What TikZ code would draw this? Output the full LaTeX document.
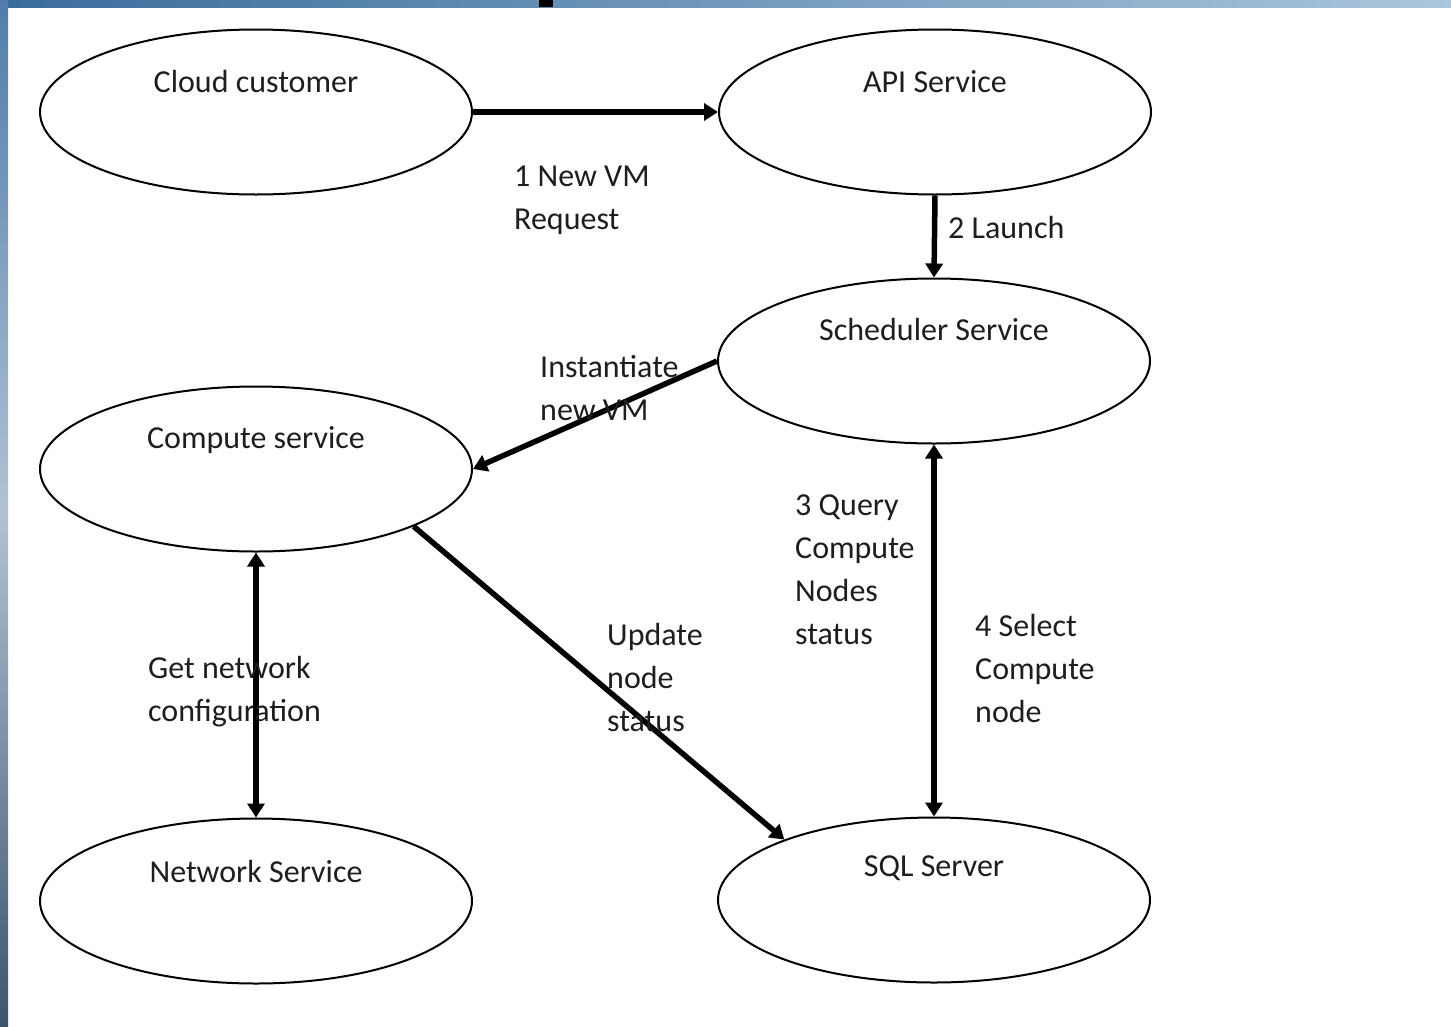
\documentclass[tikz,border=0pt]{standalone}
\usepackage{fontspec}
\setmainfont{Carlito}
\usetikzlibrary{shapes.geometric,arrows.meta}
\definecolor{txt}{HTML}{1E1E1E}
\tikzset{
  svc/.style={ellipse, draw=black, line width=2pt, minimum width=432pt, minimum height=165pt, inner sep=0pt},
  svctext/.style={anchor=north, inner sep=0pt, text=txt, font=\fontsize{32}{43}\selectfont},
  lbl/.style={anchor=north west, inner sep=0pt, align=left, text=txt, font=\fontsize{32}{43}\selectfont},
  conn/.style={line width=5.5pt, -{Triangle[length=14pt,width=17pt]}},
  dconn/.style={line width=5.5pt, {Triangle[length=14pt,width=17pt]}-{Triangle[length=14pt,width=17pt]}}
}
\begin{document}
\begin{tikzpicture}[x=1pt,y=-1pt]
\useasboundingbox (0,0) rectangle (1451,1026);
\fill[white] (0,0) rectangle (1451,1026);
% background strips
\shade[left color={rgb,255:red,58;green,108;blue,155}, right color={rgb,255:red,170;green,198;blue,220}] (0,0) rectangle (1451,7);
\fill[black] (539,0) rectangle (553,7);
\shade[top color={rgb,255:red,80;green,125;blue,170}, bottom color={rgb,255:red,60;green,85;blue,110}, middle color={rgb,255:red,175;green,195;blue,212}] (0,0) rectangle (8,1026);

% ellipses
\node[svc] (cc)   at (256,112) {};
\node[svc] (api)  at (935,112) {};
\node[svc] (sch)  at (934,361) {};
\node[svc] (comp) at (256,469) {};
\node[svc] (net)  at (256,901) {};
\node[svc] (sql)  at (934,900) {};

\node[svctext] (cct)   at (256,70)  {Cloud customer};
\node[svctext] (apit)  at (935,70)  {API Service};
\node[svctext] (scht)  at (934,318) {Scheduler Service};
\node[svctext] (compt) at (256,426) {Compute service};
\node[svctext] (nett)  at (256,860) {Network Service};
\node[svctext] (sqlt)  at (934,856) {SQL Server};

% connectors
\draw[conn] (cc.east) -- (api.west);
\draw[conn] (api.south) -- (sch.north);
\draw[conn] (sch.west) -- (comp.east);
\draw[dconn] (comp.south) -- (net.north);
\draw[conn] (comp.-20.6) -- (sql.158.5);
\draw[dconn] (sch.south) -- (sql.north);

% labels
\node[lbl] (l1) at (514,166) {1 New VM\\Request};
\node[lbl] (l2) at (948,216) {2 Launch};
\node[lbl] (l3) at (540,355) {Instantiate\\new VM};
\node[lbl] (l4) at (148,656) {Get network\\configuration};
\node[lbl] (l5) at (607,623) {Update\\node\\status};
\node[lbl] (l6) at (795,495) {3 Query\\Compute\\Nodes\\status};
\node[lbl] (l7) at (975,614) {4 Select\\Compute\\node};
\end{tikzpicture}
\end{document}
